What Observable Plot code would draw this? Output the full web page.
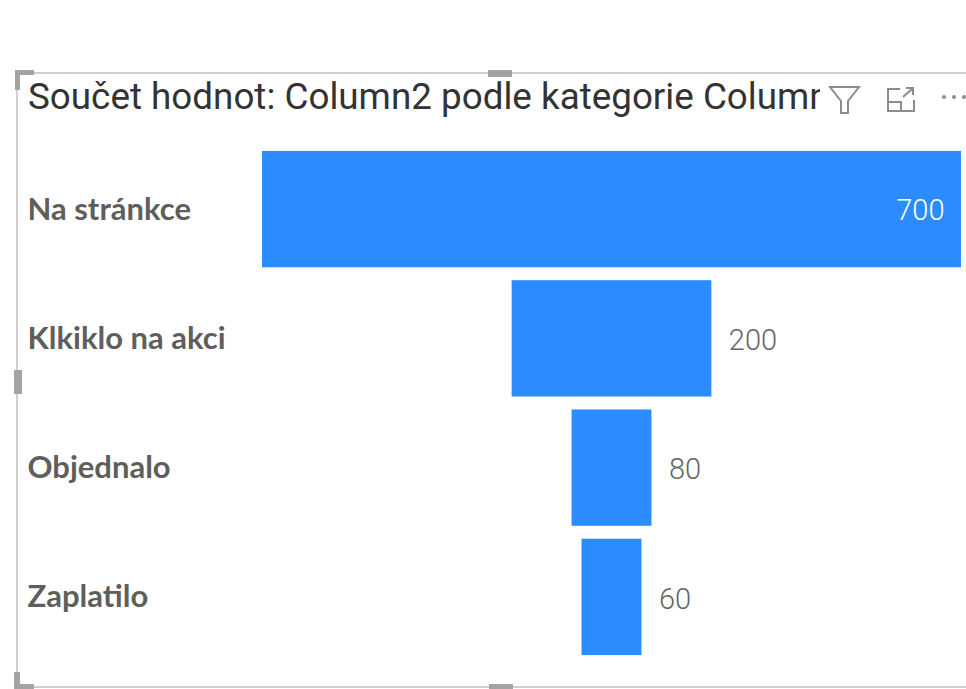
<!DOCTYPE html>
<html lang="cs">
<head>
<meta charset="utf-8">
<script src="https://cdn.jsdelivr.net/npm/d3@7"></script>
<script src="https://cdn.jsdelivr.net/npm/@observablehq/plot@0.6"></script>
<style>
  html,body{margin:0;padding:0;background:#fff;overflow:hidden}
  #page{position:relative;width:966px;height:689px;overflow:hidden;background:#fff}
  #title{position:absolute;left:28px;top:74px;width:792px;height:46px;overflow:hidden;white-space:nowrap;
    font:400 36.8px/46px Roboto,sans-serif;color:#333}
  #plot{position:absolute;left:0;top:130px}
  #plot svg{display:block;background:transparent}
  #chrome{position:absolute;left:0;top:0;pointer-events:none}
</style>
</head>
<body>
<div id="page">
  <div id="title">Součet hodnot: Column2 podle kategorie Column1</div>
  <div id="plot"></div>
  <svg id="chrome" width="966" height="689" xmlns="http://www.w3.org/2000/svg">
    <g fill="none" stroke="#cfcfcf" stroke-width="2">
      <path d="M17 73H966M17 73V687H966"/>
    </g>
    <g fill="#a3a3a3">
      <path d="M15 70H34V75H20V90H15Z"/>
      <rect x="488" y="70" width="24" height="7"/>
      <rect x="14" y="370" width="8" height="24"/>
      <path d="M14 672H20V684H34V689H14Z"/>
      <rect x="489" y="684" width="24" height="5"/>
    </g>
    <g fill="none" stroke="#8c8c8c" stroke-width="2">
      <path d="M830 87H859L848 101V113H841V101Z"/>
      <path d="M900 89H888V111H914V100M888 102H901V111M903 97L913 88M906 88H913V95"/>
    </g>
    <g fill="#8c8c8c">
      <circle cx="944" cy="97" r="2"/><circle cx="954" cy="97" r="2"/><circle cx="964" cy="97" r="2"/>
    </g>
  </svg>
</div>
<script>
const categories = ["Na stránkce", "Klkiklo na akci", "Objednalo", "Zaplatilo"];
const values = [700, 200, 80, 60];
const rows = categories.map((c, i) => ({category: c, value: values[i]}));
const insideMin = 500;

const chart = Plot.plot({
  width: 966,
  height: 559,
  marginLeft: 262,
  marginRight: 5,
  marginTop: 8,
  marginBottom: 21,
  x: {domain: [-350, 350], axis: null},
  y: {domain: categories, padding: 0.1, round: false, label: null},
  style: {background: "transparent"},
  marks: [
    Plot.barX(rows, {
      y: "category",
      x1: d => -d.value / 2,
      x2: d => d.value / 2,
      fill: "#2b8cff"
    }),
    Plot.axisY({
      anchor: "left",
      tickSize: 0,
      tickPadding: 0,
      textAnchor: "start",
      dx: -235,
      label: null,
      fontFamily: "Lato, sans-serif",
      fontWeight: 700,
      fontSize: 31,
      fill: "#5f5e5c"
    }),
    Plot.text(rows.filter(d => d.value >= insideMin), {
      y: "category",
      x: d => d.value / 2,
      text: d => String(d.value),
      textAnchor: "end",
      dx: -17,
      dy: 1,
      fontFamily: "Roboto, sans-serif",
      fontWeight: 300,
      fontSize: 29,
      fill: "#ffffff"
    }),
    Plot.text(rows.filter(d => d.value < insideMin), {
      y: "category",
      x: d => d.value / 2,
      text: d => String(d.value),
      textAnchor: "start",
      dx: 17,
      dy: 2,
      fontFamily: "Roboto, sans-serif",
      fontWeight: 300,
      fontSize: 29,
      fill: "#666666"
    })
  ]
});
document.getElementById("plot").appendChild(chart);
</script>
</body>
</html>
